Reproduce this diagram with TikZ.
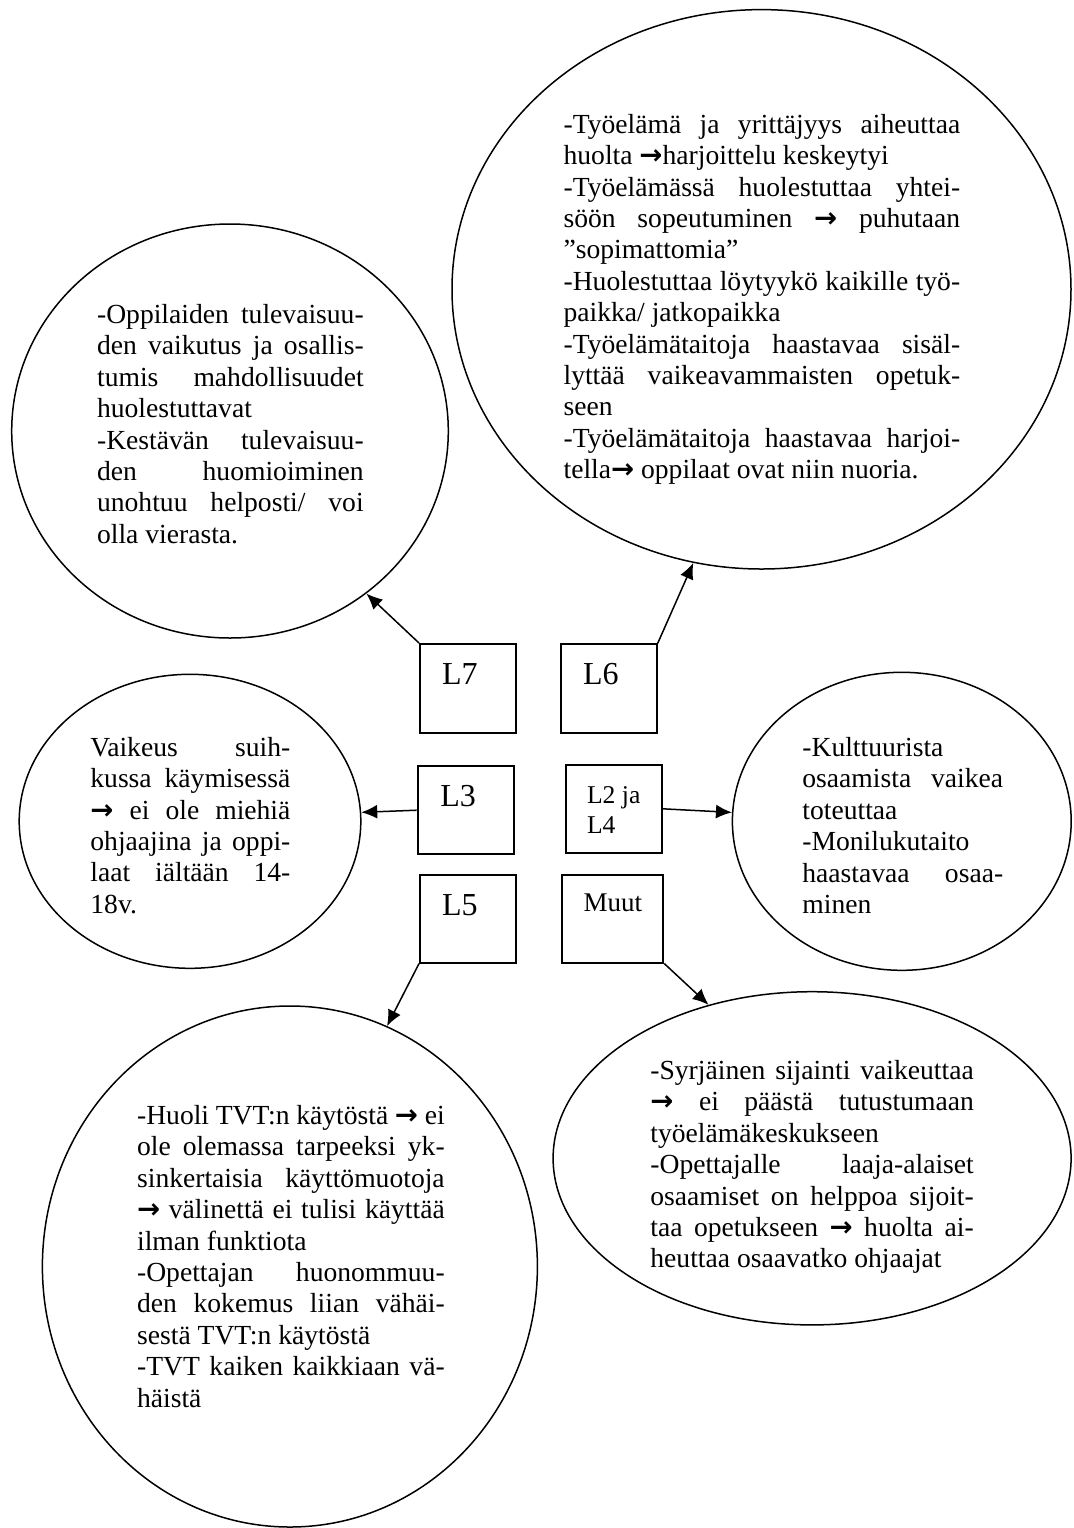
\documentclass[tikz,border=0pt]{standalone}
\usepackage{fontspec}
\setmainfont{Liberation Serif}
\newfontfamily\nuolifont{DejaVu Sans}
\usetikzlibrary{shapes.geometric,arrows.meta}

\newlength{\leveys}
\newcommand{\nuoli}{{\nuolifont\bfseries →}}
\newcommand{\tasattu}[1]{\hbox to\leveys{\spaceskip=\fontdimen2\font plus 1fil minus 0.3\fontdimen2\font\relax #1}}
\newcommand{\vapaa}[1]{\hbox{#1}}

\begin{document}
\begin{tikzpicture}[x=0.5pt,y=-0.5pt,
  >={Latex[length=8pt,width=7pt]},
  pallo/.style={draw, ellipse, inner sep=0pt, line width=0.75pt},
  laatikko/.style={draw, rectangle, inner sep=0pt, line width=1pt},
  teksti/.style={anchor=north west, inner sep=0pt, align=left, font=\fontsize{13.8}{15.7}\selectfont},
  tunnus/.style={anchor=north west, inner sep=0pt, font=\fontsize{16}{19}\selectfont}]
  \useasboundingbox (0,0) rectangle (1073,1528);

  \node (e6) [pallo, minimum width=309.5pt, minimum height=279.7pt] at (761.5,289.3) {};
  \setlength{\leveys}{198.3pt}
  \node (t6) [teksti] at (563.2,113.7) {%
    \tasattu{-Työelämä ja yrittäjyys aiheuttaa}\\
    \vapaa{huolta \nuoli harjoittelu keskeytyi}\\
    \tasattu{-Työelämässä huolestuttaa yhtei-}\\
    \tasattu{söön sopeutuminen \nuoli{} puhutaan}\\
    \vapaa{”sopimattomia”}\\
    \tasattu{-Huolestuttaa löytyykö kaikille työ-}\\
    \vapaa{paikka/ jatkopaikka}\\
    \tasattu{-Työelämätaitoja haastavaa sisäl-}\\
    \tasattu{lyttää vaikeavammaisten opetuk-}\\
    \vapaa{seen}\\
    \tasattu{-Työelämätaitoja haastavaa harjoi-}\\
    \vapaa{tella\nuoli{} oppilaat ovat niin nuoria.}};

  \node (e7) [pallo, minimum width=218.3pt, minimum height=207pt] at (230,431) {};
  \setlength{\leveys}{133.3pt}
  \node (t7) [teksti] at (96.7,304) {%
    \tasattu{-Oppilaiden tulevaisuu-}\\
    \tasattu{den vaikutus ja osallis-}\\
    \tasattu{tumis mahdollisuudet}\\
    \vapaa{huolestuttavat}\\
    \tasattu{-Kestävän tulevaisuu-}\\
    \tasattu{den huomioiminen}\\
    \tasattu{unohtuu helposti/ voi}\\
    \vapaa{olla vierasta.}};

  \node (e3) [pallo, minimum width=170.8pt, minimum height=147pt] at (190,821.3) {};
  \setlength{\leveys}{100pt}
  \node (t3) [teksti] at (90,736.7) {%
    \tasattu{Vaikeus suih-}\\
    \tasattu{kussa käymisessä}\\
    \tasattu{\nuoli{} ei ole miehiä}\\
    \tasattu{ohjaajina ja oppi-}\\
    \tasattu{laat iältään 14-}\\
    \vapaa{18v.}};

  \node (e24) [pallo, minimum width=169.4pt, minimum height=149pt] at (901.8,821.3) {};
  \setlength{\leveys}{100.4pt}
  \node (t24) [teksti] at (802,737) {%
    \vapaa{-Kulttuurista}\\
    \tasattu{osaamista vaikea}\\
    \vapaa{toteuttaa}\\
    \vapaa{-Monilukutaito}\\
    \tasattu{haastavaa osaa-}\\
    \vapaa{minen}};

  \node (e5) [pallo, minimum width=247.5pt, minimum height=260.5pt] at (289.9,1266.5) {};
  \setlength{\leveys}{153.8pt}
  \node (t5) [teksti] at (136.7,1105) {%
    \tasattu{-Huoli TVT:n käytöstä \nuoli{} ei}\\
    \tasattu{ole olemassa tarpeeksi yk-}\\
    \tasattu{sinkertaisia käyttömuotoja}\\
    \tasattu{\nuoli{} välinettä ei tulisi käyttää}\\
    \vapaa{ilman funktiota}\\
    \tasattu{-Opettajan huonommuu-}\\
    \tasattu{den kokemus liian vähäi-}\\
    \vapaa{sestä TVT:n käytöstä}\\
    \tasattu{-TVT kaiken kaikkiaan vä-}\\
    \vapaa{häistä}};

  \node (em) [pallo, minimum width=259pt, minimum height=166.6pt] at (812.1,1158.3) {};
  \setlength{\leveys}{161.7pt}
  \node (tm) [teksti] at (650,1060) {%
    \tasattu{-Syrjäinen sijainti vaikeuttaa}\\
    \tasattu{\nuoli{} ei päästä tutustumaan}\\
    \vapaa{työelämäkeskukseen}\\
    \tasattu{-Opettajalle laaja-alaiset}\\
    \tasattu{osaamiset on helppoa sijoit-}\\
    \tasattu{taa opetukseen \nuoli{} huolta ai-}\\
    \vapaa{heuttaa osaavatko ohjaajat}};


  \node (b7) [laatikko, minimum width=48pt, minimum height=44.5pt] at (468,688.5) {};
  \node (l7) [tunnus] at (441.7,663.3) {L7};

  \node (b6) [laatikko, minimum width=48pt, minimum height=44.2pt] at (608.7,688.5) {};
  \node (l6) [tunnus] at (582.7,663.3) {L6};

  \node (b3) [laatikko, minimum width=48.3pt, minimum height=44.2pt] at (466,810.2) {};
  \node (l3) [tunnus] at (440,785) {L3};

  \node (b24) [laatikko, minimum width=48pt, minimum height=43.8pt] at (613.7,808.8) {};
  \node (l24) [tunnus, align=left, font=\fontsize{12.8}{15}\selectfont] at (586.7,786) {L2 ja\\L4};

  \node (b5) [laatikko, minimum width=48pt, minimum height=43.8pt] at (468,918.8) {};
  \node (l5) [tunnus] at (441.7,894.3) {L5};

  \node (bm) [laatikko, minimum width=50.5pt, minimum height=43.8pt] at (612.8,918.8) {};
  \node (lm) [tunnus, font=\fontsize{13.5}{16}\selectfont] at (583.3,893.3) {Muut};


  \draw [->, line width=0.75pt] (b7.north west) -- (e7.-50);
  \draw [->, line width=0.75pt] (b6.north east) -- (e6.-104);
  \draw [->, line width=0.75pt] (b3.west) -- (e3.3);
  \draw [->, line width=0.75pt] (b24.east) -- (e24.177);
  \draw [->, line width=0.75pt] (b5.south west) -- (e5.68);
  \draw [->, line width=0.75pt] (bm.south east) -- (em.124);
\end{tikzpicture}
\end{document}
